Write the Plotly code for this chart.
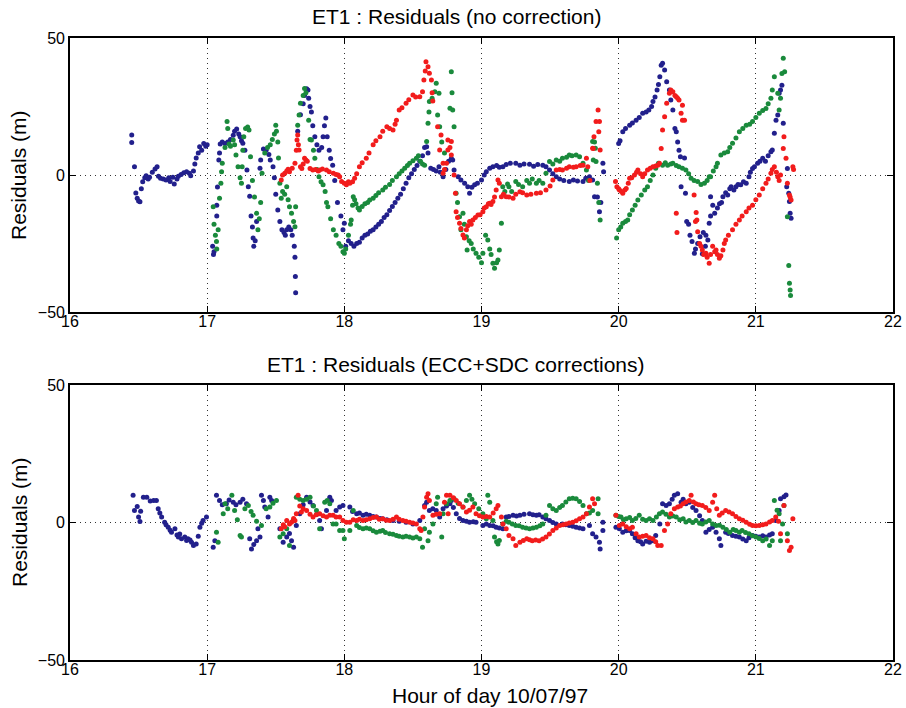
import plotly.graph_objects as go

# ---------------- data: (hour, residual m) ----------------
top_blue = [
    (16.45, 14.6), (16.45, 11.9), (16.47, 3.0), (16.48, -6.6), (16.49, -8.5), (16.50, -9.5), (16.51, -9.8),
    (16.52, -5.0), (16.53, -2.5), (16.545, -1.0), (16.555, -0.3), (16.57, -1.5), (16.58, -0.8), (16.60, 1.0),
    (16.62, 2.2), (16.635, 3.0), (16.645, -0.5), (16.66, -1.2), (16.68, -1.5), (16.70, -1.8), (16.72, -1.0),
    (16.73, -2.4), (16.75, -0.8), (16.76, -3.3), (16.78, -1.5), (16.79, -0.5), (16.81, 0.2), (16.83, 0.8),
    (16.85, 1.2), (16.87, 0.6), (16.88, -0.3), (16.90, 1.5), (16.91, 4.0), (16.92, 6.2), (16.935, 8.0),
    (16.945, 10.3), (16.96, 9.0), (16.975, 11.5), (16.99, 10.5), (17.0, 11.0),
    (17.04, -26), (17.046, -29), (17.05, -28), (17.07, -15), (17.07, -11), (17.075, -4.4), (17.085, 5.5),
    (17.09, 8), (17.095, 11.3), (17.11, 12), (17.13, 11.5), (17.15, 12), (17.17, 13), (17.19, 14.5),
    (17.20, 16), (17.215, 16.8), (17.23, 15), (17.24, 14), (17.25, 12.5), (17.26, 11.6), (17.275, 9),
    (17.29, 1.8), (17.30, -4.3), (17.31, -7.8), (17.32, -15), (17.33, -19), (17.335, -23), (17.34, -26),
    (17.35, -24), (17.36, -17), (17.385, 2.5), (17.39, 5.5), (17.41, 9.5), (17.43, 9), (17.45, 7.5),
    (17.46, 5.5), (17.48, 3), (17.49, -1), (17.50, -7), (17.515, -12.8), (17.53, -17), (17.545, -20),
    (17.56, -21), (17.57, -22), (17.58, -20), (17.595, -19), (17.61, -20), (17.62, -22), (17.635, -26),
    (17.64, -30), (17.643, -37), (17.645, -43),
    (17.66, 16), (17.68, 22), (17.70, 26), (17.71, 29), (17.725, 31.5), (17.735, 31), (17.74, 28),
    (17.75, 25), (17.76, 23), (17.77, 18), (17.785, 14), (17.80, 11), (17.815, 9), (17.835, 10),
    (17.845, 14), (17.855, 18), (17.865, 20.8), (17.875, 14), (17.89, 9), (17.90, 6), (17.915, 3.6),
    (17.93, -2), (17.95, -10), (17.975, -15), (17.99, -20), (18.0, -17.6), (18.01, -26),
    (18.03, -24), (18.05, -25), (18.07, -26), (18.09, -25), (18.11, -24.5), (18.13, -23), (18.15, -22),
    (18.17, -21.5), (18.19, -20.5), (18.21, -20), (18.23, -19), (18.25, -18), (18.27, -17), (18.29, -15.5),
    (18.31, -14.5), (18.33, -13), (18.35, -11.5), (18.37, -10), (18.39, -8.5), (18.41, -7), (18.43, -5),
    (18.45, -3), (18.47, -1), (18.49, 0.5), (18.51, 2), (18.53, 3.5), (18.55, 5), (18.57, 7),
    (18.585, 10), (18.60, 10.3), (18.61, 8), (18.63, 2.5), (18.65, 2), (18.67, 1.5), (18.69, 3),
    (18.70, 1), (18.72, -0.6), (18.74, 2), (18.76, 5), (18.78, 6), (18.79, 5.5), (18.80, 1.8),
    (18.83, -0.6), (18.85, -1.8), (18.877, -3), (18.90, -4.3), (18.913, -6.7), (18.93, -4.5),
    (18.95, -3.6), (18.97, -3), (19.0, -1.8), (19.02, 0), (19.035, 1.2), (19.06, 2.5), (19.083, 3),
    (19.11, 3.5), (19.13, 2.8), (19.156, 3), (19.18, 3.8), (19.21, 4.3), (19.25, 4.3), (19.28, 3.6),
    (19.31, 4), (19.35, 3.9), (19.38, 3.2), (19.41, 3.8), (19.447, 3.6), (19.47, 3), (19.496, 1.8),
    (19.52, 0.5), (19.545, -0.6), (19.57, -1.5), (19.60, -2), (19.64, -2.4), (19.67, -1.8), (19.70, -2.2),
    (19.74, -2.4), (19.76, -1.2), (19.787, -0.6), (19.81, -1.8), (19.824, -7.9), (19.845, -8),
    (19.86, -13.4), (19.87, -10), (19.885, 4.3), (19.89, 1.2),
    (20.0, 11.5), (20.01, 12.5), (20.03, 15.8), (20.05, 17), (20.08, 18.2), (20.10, 19), (20.127, 20),
    (20.15, 21), (20.175, 22.5), (20.20, 23), (20.22, 23.7), (20.24, 25), (20.25, 26.8), (20.265, 28.5),
    (20.28, 31), (20.29, 33), (20.30, 35.9), (20.31, 40.1), (20.32, 40.8), (20.335, 38.3), (20.35, 34),
    (20.37, 31), (20.38, 27.4), (20.395, 23.7), (20.41, 17), (20.42, 15.8), (20.43, 12), (20.44, 9),
    (20.45, 6.7), (20.48, 6.2), (20.455, -4.3), (20.487, -6.7), (20.496, -17), (20.51, -18), (20.52, -22),
    (20.535, -24.3), (20.552, -28.6), (20.56, -27), (20.576, -25), (20.593, -22.5), (20.61, -28.8),
    (20.617, -21), (20.632, -26), (20.636, -22), (20.65, -23.7), (20.66, -17.6), (20.67, -15),
    (20.67, -7.9), (20.686, -11), (20.70, -14), (20.72, -12), (20.735, -10.5), (20.75, -10), (20.76, -7.9),
    (20.78, -6.5), (20.795, -7.3), (20.81, -5), (20.82, -4.3), (20.84, -5.5), (20.855, -4.3), (20.87, -3.5),
    (20.89, -3.6), (20.91, -2.5), (20.93, -3), (20.95, -0.6), (20.96, 1), (20.976, 2.4), (20.99, 3),
    (21.013, 4.3), (21.03, 5), (21.05, 6.1), (21.07, 5), (21.09, 7), (21.11, 8.5), (21.12, 9.1),
    (21.135, 15.2), (21.147, 20), (21.16, 21.9), (21.17, 29.8), (21.18, 31), (21.19, 32.8), (21.20, 18.9),
    (21.225, -4.3), (21.23, 2.4), (21.24, -6.7), (21.245, -9.7), (21.25, -14), (21.257, -15.8),
]

top_green = [
    (17.044, -11.6), (17.05, -18), (17.06, -22), (17.068, -24.3), (17.07, -27), (17.08, -20), (17.09, -8.5),
    (17.10, -3), (17.105, 1.2), (17.11, 4.3), (17.13, 10), (17.145, 19.5), (17.15, 17), (17.16, 11.3),
    (17.17, 10.5), (17.19, 12.8), (17.20, 11), (17.21, 7.3), (17.225, 3), (17.24, -1), (17.25, -3),
    (17.255, 3), (17.26, 9), (17.267, 14), (17.28, 17), (17.295, 17.5), (17.305, 16.4), (17.316, 6.7),
    (17.33, -2), (17.345, -8), (17.36, -14), (17.37, -20), (17.38, -16), (17.39, -10), (17.40, 0.6),
    (17.42, 8), (17.44, 10), (17.46, 11), (17.475, 13), (17.49, 15), (17.50, 18.2), (17.505, 16),
    (17.515, 12), (17.52, 6.2), (17.53, -3), (17.54, -8.5), (17.55, -6), (17.565, -7), (17.58, -4.3),
    (17.59, -9), (17.60, -11.6), (17.615, -14), (17.63, -17), (17.64, -18.9), (17.645, -11.6),
    (17.66, 18.2), (17.67, 21.9), (17.68, 26.2), (17.70, 29), (17.71, 31.6), (17.72, 30), (17.74, 20),
    (17.75, 13), (17.76, 12.8), (17.775, 9), (17.785, 6.1), (17.80, 2), (17.815, -0.6), (17.83, -2.5),
    (17.845, -3.6), (17.86, -6), (17.87, -10), (17.88, -11.6), (17.90, -16), (17.92, -20), (17.94, -22),
    (17.96, -25), (17.975, -26), (17.99, -28), (18.0, -28.6), (18.01, -27), (18.03, -22), (18.045, -18),
    (18.05, -16.4), (18.06, -11), (18.065, -7.9), (18.075, -9), (18.085, -10.5), (18.10, -12),
    (18.11, -12.8), (18.13, -11.5), (18.15, -10.5), (18.17, -10), (18.185, -9.1), (18.21, -8.5),
    (18.23, -7.5), (18.25, -6.5), (18.28, -5.5), (18.30, -4.5), (18.33, -3.5), (18.35, -2), (18.38, -0.6),
    (18.40, 0.5), (18.42, 1.5), (18.44, 2.5), (18.46, 3.5), (18.476, 4.3), (18.50, 5.2), (18.525, 6.1),
    (18.54, 7), (18.555, 5), (18.57, 4), (18.585, 3.6), (18.60, 12.2), (18.61, 18.9), (18.617, 23),
    (18.62, 26.8), (18.64, 28), (18.66, 30.4), (18.67, 33.5), (18.68, 21.9), (18.69, 29.8), (18.695, 17.6),
    (18.71, 12), (18.73, 8), (18.77, 24.4), (18.78, 37.7), (18.785, 30), (18.79, 23.7), (18.80, 17.6),
    (18.815, -6.7), (18.825, -10), (18.84, -15.2), (18.85, -20), (18.865, -14), (18.875, -18),
    (18.89, -22.5), (18.895, -27.4), (18.91, -24), (18.925, -25), (18.94, -27), (18.96, -28.6),
    (18.98, -30), (19.0, -32), (19.01, -28.6), (19.03, -22), (19.046, -23.7), (19.06, -27), (19.07, -29),
    (19.083, -32.2), (19.095, -34), (19.11, -32), (19.12, -31), (19.13, -27.4), (19.145, -17.6),
    (19.155, -4.3), (19.17, -6), (19.19, -3.3), (19.20, -4.3), (19.22, -6), (19.25, -2.4), (19.27, -3.5),
    (19.30, -4.3), (19.33, -2), (19.35, -3), (19.37, -1.5), (19.40, -3), (19.42, -2), (19.447, -3),
    (19.47, 0.6), (19.496, 4.9), (19.52, 4), (19.545, 5.5), (19.57, 5), (19.59, 6.1), (19.62, 6.5),
    (19.64, 7.3), (19.66, 7), (19.69, 7.3), (19.715, 6.7), (19.74, 4.3), (19.765, 1.8), (19.78, -2),
    (19.81, 12.2), (19.815, 5.5), (19.824, 12), (19.83, 9.8), (19.835, 4.9), (19.845, -3), (19.855, -10),
    (19.865, -16.4),
    (19.985, -23), (20.0, -20), (20.015, -19), (20.03, -17.6), (20.05, -17), (20.066, -16.4), (20.08, -14.5),
    (20.10, -12.8), (20.12, -11), (20.14, -9.1), (20.165, -7.3), (20.19, -5.5), (20.21, -4.3), (20.23, -2),
    (20.25, 0), (20.27, 2.5), (20.29, 4.3), (20.32, 3.6), (20.34, 4.5), (20.357, 3.6), (20.38, 4),
    (20.395, 4.3), (20.42, 3.5), (20.44, 3), (20.465, 2.5), (20.49, 1.8), (20.51, 0.5), (20.528, -1.2),
    (20.55, -2), (20.576, -2.4), (20.60, -3.5), (20.625, -3), (20.645, -2), (20.66, -0.6), (20.67, -0.6),
    (20.69, 1.5), (20.71, 3), (20.72, 4.3), (20.745, 7.3), (20.77, 8), (20.795, 8.5), (20.81, 10),
    (20.83, 11.6), (20.855, 13.5), (20.88, 15.8), (20.905, 17), (20.93, 18.2), (20.955, 18.5),
    (20.976, 19.5), (21.0, 21), (21.025, 22.5), (21.05, 23.5), (21.074, 24.3), (21.09, 26), (21.11, 28),
    (21.12, 31), (21.135, 35.9), (21.16, 29.8), (21.17, 23.7), (21.18, 28), (21.19, 37), (21.20, 42.6),
    (21.21, 37.7), (21.23, -15.2), (21.24, -33), (21.245, -39.5), (21.25, -42), (21.253, -44),
]

top_red = [
    (17.54, -1.8), (17.55, 0), (17.566, 0.6), (17.58, 1.5), (17.59, 2.1), (17.60, 1.2), (17.62, 2.5),
    (17.64, 4.3), (17.65, 9), (17.655, 12.8), (17.66, 14.6), (17.665, 11), (17.67, 9.1), (17.68, 3),
    (17.69, 2.4), (17.70, 4), (17.71, 6.1), (17.72, 5.5), (17.73, 5), (17.75, 2.4), (17.77, 1.8),
    (17.79, 2), (17.81, 1.5), (17.82, 1.8), (17.84, 2.2), (17.87, 1.8), (17.89, 1.2), (17.92, 0.6),
    (17.94, 0.2), (17.955, 0), (17.966, -0.6), (17.98, -2.4), (18.0, -3), (18.015, -3.6), (18.03, -2.5),
    (18.04, -3), (18.06, -2.5), (18.075, -1.2), (18.09, 0.5), (18.11, 3), (18.13, 4.5), (18.16, 6.1),
    (18.18, 8), (18.21, 11), (18.23, 12.5), (18.26, 14), (18.28, 16), (18.31, 17.6), (18.33, 17),
    (18.355, 16.4), (18.37, 18.5), (18.38, 20), (18.40, 23.7), (18.42, 24.5), (18.45, 26.2),
    (18.47, 27.5), (18.50, 29.2), (18.52, 28.5), (18.55, 28.6), (18.57, 30.4), (18.58, 34.7),
    (18.59, 38), (18.595, 41.3), (18.61, 39.5), (18.62, 37.1), (18.635, 34.7), (18.64, 30),
    (18.645, 27), (18.68, 17.6), (18.695, 9.1), (18.705, 14.6), (18.72, 0.6), (18.72, 4.3), (18.73, 2),
    (18.745, 4.3), (18.755, 12.8), (18.755, 9.1), (18.77, 10), (18.78, 12.2), (18.78, 7.3), (18.80, 0),
    (18.81, -6.7), (18.815, -13.4), (18.825, -15.5), (18.84, -17.6), (18.85, -19.5), (18.865, -21.9),
    (18.875, -23), (18.89, -20), (18.90, -18.5), (18.913, -17), (18.925, -18), (18.937, -16.4),
    (18.955, -15.5), (18.974, -14.6), (18.99, -14.5), (19.01, -13.4), (19.02, -12), (19.035, -11.6),
    (19.05, -10.5), (19.06, -10.3), (19.07, -10.8), (19.083, -9.7), (19.095, -8), (19.107, -5.5),
    (19.12, -1.8), (19.13, -3), (19.145, -7.9), (19.16, -7), (19.18, -7.9), (19.20, -8), (19.23, -8.5),
    (19.25, -7), (19.28, -6.1), (19.30, -6.5), (19.33, -7.3), (19.36, -7), (19.40, -6.7), (19.43, -6.5),
    (19.47, -5.5), (19.50, -4), (19.52, -1.8), (19.545, 1.8), (19.57, 2), (19.59, 1.8), (19.62, 2.5),
    (19.64, 3), (19.67, 2.8), (19.69, 3), (19.72, 3.5), (19.74, 3.6), (19.765, 6.1), (19.775, 3),
    (19.79, -2), (19.81, 9.8), (19.815, 9.7), (19.82, 14), (19.835, 19.5), (19.85, 23.7), (19.855, 15.8),
    (19.86, 19.5), (19.865, 9.1),
    (19.977, -2.4), (19.987, -4.3), (20.0, -5), (20.006, -5.5), (20.02, -6), (20.03, -6.7), (20.045, -5.5),
    (20.055, -4.9), (20.07, -3), (20.08, -1.2), (20.095, -1), (20.115, 0), (20.13, 1), (20.14, 1.8),
    (20.16, 0.5), (20.175, -0.6), (20.19, 0.5), (20.21, 1.8), (20.23, 2.5), (20.25, 3), (20.27, 3.3),
    (20.285, 3.6), (20.297, 4.3), (20.31, 9.7), (20.32, 16.4), (20.335, 21.3), (20.35, 26.2),
    (20.37, 29.8), (20.38, 31), (20.395, 30.4), (20.41, 29), (20.42, 28.6), (20.43, 28), (20.44, 27.4),
    (20.455, 22.5), (20.465, 20), (20.465, 25.5), (20.48, 20), (20.42, -14), (20.425, -21),
    (20.55, -7.3), (20.56, -17), (20.565, -13.7), (20.57, -16.4), (20.576, -20.7), (20.59, -25),
    (20.60, -26), (20.61, -27.4), (20.62, -29), (20.636, -28.6), (20.645, -30), (20.66, -32.2),
    (20.67, -29), (20.685, -26), (20.70, -28), (20.71, -27.4), (20.72, -29), (20.734, -30.4),
    (20.745, -29.5), (20.76, -27.4), (20.77, -25), (20.78, -23.7), (20.80, -22), (20.83, -20),
    (20.855, -18), (20.88, -16.4), (20.90, -15), (20.93, -13.4), (20.95, -12), (20.976, -11), (21.0, -9),
    (21.025, -7.3), (21.05, -5), (21.074, -3), (21.09, -1.5), (21.11, 0.6), (21.12, 2), (21.135, 3),
    (21.15, 1), (21.16, -0.6), (21.17, -2), (21.18, 0), (21.20, 9.7), (21.205, 14), (21.22, 6.1),
    (21.23, -3), (21.245, -7.3), (21.25, -8), (21.257, -9.1), (21.27, 3), (21.275, 2),
]

bot_blue = [
    (16.46, 9.9), (16.47, 4.4), (16.49, 5.8), (16.50, 2.0), (16.51, 0.4), (16.515, 4.1), (16.535, 9.2),
    (16.56, 9.2), (16.585, 7.8), (16.61, 8), (16.63, 8), (16.643, 5), (16.655, 3.5), (16.668, 2),
    (16.69, 0.1), (16.70, -0.8), (16.716, -1.7), (16.73, -2.8), (16.74, -3.5), (16.765, -2.3),
    (16.78, -4.5), (16.79, -5.3), (16.80, -4.2), (16.813, -5.9), (16.837, -5.3), (16.85, -6.5),
    (16.86, -5.9), (16.875, -6.4), (16.886, -7.2), (16.90, -8.4), (16.92, -7.8), (16.935, -5),
    (16.947, -1.7), (16.96, -0.3), (16.97, 0.7), (16.995, 2),
    (17.044, -9), (17.056, -6.6), (17.068, 9.9), (17.09, 8), (17.11, 6.5), (17.14, 6.8), (17.16, 8.2),
    (17.19, 7.4), (17.21, 6.5), (17.24, 7.4), (17.26, 8.5), (17.287, 6.8), (17.31, -5.9), (17.323, -9.6),
    (17.34, -8), (17.36, -6.6), (17.37, -2.3), (17.385, -5.3), (17.396, 9.9), (17.41, 8), (17.42, 5.6),
    (17.444, 2), (17.457, 9.2), (17.47, 8), (17.53, -2.3), (17.554, -7.2), (17.58, -5.3), (17.60, -4),
    (17.615, -6.6), (17.63, -9), (17.65, -1.1), (17.675, 3.2), (17.70, 6.5), (17.725, 9.2), (17.75, 7.5),
    (17.772, 6.2), (17.80, 3), (17.82, 0.7), (17.833, -2.3), (17.87, 4.4), (17.894, 9.2), (17.906, 8),
    (17.94, 4.4), (17.966, 5.6), (17.99, 6.2), (18.04, 5.6), (18.06, 4), (18.09, 3.2), (18.11, 3.5),
    (18.136, 2.6), (18.16, 3), (18.185, 2.6), (18.21, 2.2), (18.234, 2), (18.26, 1.5), (18.28, 1.4),
    (18.31, 1), (18.355, 0.7), (18.40, 0.5), (18.45, 0.1), (18.50, -0.5), (18.55, 0.7), (18.585, 6.2),
    (18.60, 7.4), (18.62, 4.4), (18.645, 5), (18.67, 4.4), (18.695, 2), (18.72, 5), (18.745, 6),
    (18.77, 6.8), (18.78, 8), (18.795, 5.5), (18.816, 3.2), (18.84, 1.5), (18.865, 0.7), (18.89, 0.5),
    (18.913, 0.1), (18.94, 0.3), (18.96, 0.1), (19.01, -1.1), (19.035, -0.5), (19.06, -1.1),
    (19.085, -1.2), (19.107, -1.7), (19.13, -2), (19.156, -2.3), (19.18, 2), (19.20, 2.2), (19.23, 2.6),
    (19.255, 2.4), (19.28, 2.6), (19.31, 3), (19.35, 3.2), (19.375, 2.8), (19.40, 2.6), (19.42, 2.8),
    (19.447, 2), (19.47, 1.4), (19.496, 0.7), (19.52, 0), (19.545, -0.5), (19.59, -0.5), (19.615, -0.8),
    (19.64, -1.1), (19.665, -1.4), (19.69, -1.7), (19.715, -2), (19.74, -2.3), (19.787, -1.1),
    (19.81, -4.1), (19.835, -5.3), (19.86, -7.2), (19.865, -9.6), (19.885, 0.1), (19.885, -2.9),
    (19.98, -1.7), (20.005, -2.3), (20.03, -3.5), (20.055, -3), (20.08, -2.9), (20.10, -4.1),
    (20.12, -5.5), (20.14, -6.6), (20.16, -7), (20.175, -7.8), (20.20, -6.8), (20.225, -7.2),
    (20.25, -6.6), (20.27, -4.7), (20.30, -0.5), (20.32, 6.8), (20.346, 6.2), (20.37, 6.8), (20.39, 8.5),
    (20.406, 9.9), (20.43, 10.5), (20.455, 7.4), (20.47, 8.5), (20.49, 6.8), (20.515, 7.4), (20.54, 5.5),
    (20.564, 4.4), (20.59, 2.5), (20.61, 0.7), (20.636, -3.5), (20.66, -2.5), (20.685, -1.7),
    (20.71, -3.5), (20.734, -5.9), (20.745, -8.4), (20.78, -3.5), (20.80, -4), (20.83, -4.7),
    (20.855, -5), (20.88, -5.3), (20.905, -6), (20.93, -6.6), (20.95, -5.5), (20.976, -4.7),
    (21.0, -5), (21.025, -5.3), (21.05, -4.8), (21.074, -5.3), (21.10, -4.5), (21.12, -4.1),
    (21.145, 0.7), (21.17, 4.4), (21.18, 8.6), (21.205, 9.4), (21.22, 10),
]

bot_green = [
    (17.068, -3.5), (17.08, -7.2), (17.117, 3.2), (17.13, 6.8), (17.15, 5), (17.18, 9.9), (17.20, 4.4),
    (17.22, 1), (17.24, -4.7), (17.25, -5.3), (17.275, 5), (17.30, 6.2), (17.32, 4), (17.335, 2.6),
    (17.36, 0.5), (17.396, -1.1), (17.43, 5), (17.457, 5.6), (17.48, 7), (17.505, 8), (17.53, -5.3),
    (17.554, -4.1), (17.58, -2.3), (17.60, -8.4), (17.627, 0.7), (17.65, 9.2), (17.675, 8.5),
    (17.70, 8), (17.725, 8.5), (17.75, 9.2), (17.775, 6), (17.797, 4.4), (17.82, -2.3), (17.857, 7.4),
    (17.875, 8), (17.894, 6.8), (17.918, -0.5), (17.94, -0.5), (17.966, -2.9), (17.99, -2.9),
    (18.0, -5.9), (18.04, -2.9), (18.065, 4.4), (18.09, -1.1), (18.11, -1.8), (18.136, -2.3),
    (18.16, -2), (18.185, -2.3), (18.21, -3), (18.234, -3.5), (18.26, -3.2), (18.28, -2.9),
    (18.30, -3.6), (18.33, -4.1), (18.355, -4.3), (18.38, -4.7), (18.40, -5), (18.427, -5.3),
    (18.45, -5), (18.476, -5.3), (18.50, -5.6), (18.525, -5.3), (18.55, -5.9), (18.57, -9),
    (18.585, -2.3), (18.61, -6.6), (18.62, -3.5), (18.646, -0.5), (18.67, 6.8), (18.68, 9.2),
    (18.71, -5.3), (18.72, 3.2), (18.745, 6.8), (18.77, 8), (18.80, 8.6), (18.83, 7), (18.865, 5.6),
    (18.89, 8), (18.913, 9.9), (18.93, 8.5), (18.95, 6.8), (18.98, 5), (19.01, 3.2), (19.035, 1.4),
    (19.046, 9.9), (19.06, 7.4), (19.083, 0.7), (19.095, -5.3), (19.11, -7), (19.12, -7.8),
    (19.13, -6.5), (19.156, -0.5), (19.18, 0.5), (19.20, 0.1), (19.225, -0.5), (19.25, -1.1),
    (19.275, -1.2), (19.30, -1.7), (19.325, -2), (19.35, -2.3), (19.375, -2), (19.40, -1.7),
    (19.425, -1.2), (19.447, -0.5), (19.47, 2.6), (19.496, 6.2), (19.52, 5), (19.545, 4.4),
    (19.57, 5.5), (19.59, 6.2), (19.615, 7.5), (19.64, 8.6), (19.665, 8.8), (19.69, 8.6), (19.715, 7.6),
    (19.74, 6.2), (19.765, 3.2), (19.787, 3.5), (19.81, 4.4), (19.85, 8.6), (19.85, 3.2),
    (19.98, 2.6), (20.0, 2.2), (20.017, 2), (20.035, 1), (20.055, 1.4), (20.08, 1.8), (20.10, 0.7),
    (20.125, 1.5), (20.15, 2.6), (20.175, 1.2), (20.20, 0.7), (20.225, 1.4), (20.25, 0.7), (20.275, 2),
    (20.297, 3.2), (20.32, 3.8), (20.345, 3), (20.37, 2), (20.395, 2.4), (20.42, 2), (20.445, 1),
    (20.47, 1.4), (20.49, 0.2), (20.515, 0.7), (20.54, 0), (20.564, 0.7), (20.59, -0.3), (20.61, -0.5),
    (20.635, 0.2), (20.66, 0.7), (20.685, -0.5), (20.71, -1.1), (20.735, -1), (20.76, -1.7),
    (20.785, -2.5), (20.81, -3.5), (20.835, -2.5), (20.855, -2.9), (20.88, -3.5), (20.90, -2.9),
    (20.925, -3.6), (20.95, -4.1), (20.975, -4.8), (21.0, -5.3), (21.025, -5.8), (21.05, -6.6),
    (21.075, -6), (21.10, -8.4), (21.12, -6.6), (21.135, 8), (21.155, 4.5), (21.17, 3.2), (21.18, -6.6),
    (21.195, -0.5), (21.205, 6.2), (21.23, -4.1),
]

bot_red = [
    (17.54, -2.3), (17.555, -0.8), (17.565, -1.5), (17.58, 0.7), (17.60, -0.5), (17.615, 0.1),
    (17.63, 1.5), (17.64, 0.7), (17.65, 3.2), (17.663, 9.9), (17.675, 6), (17.687, 3.8), (17.70, 5),
    (17.725, 4.4), (17.75, 3), (17.772, 2), (17.795, 2.8), (17.82, 3.2), (17.845, 2.5), (17.87, 2),
    (17.894, 2.6), (17.918, 2.6), (17.94, 2), (17.966, 2), (17.99, 0.7), (18.015, 0.1), (18.04, 0.1),
    (18.065, 1), (18.09, 0.7), (18.11, 1.2), (18.136, 0.7), (18.16, 1), (18.185, 1.4), (18.21, 1.8),
    (18.234, 2), (18.255, 1.2), (18.28, 1.4), (18.305, 0.8), (18.33, 0.7), (18.355, 1.2), (18.38, 2),
    (18.40, 1.2), (18.427, 0.7), (18.45, 0.5), (18.476, 0.1), (18.50, -0.2), (18.525, -0.5),
    (18.55, -2.3), (18.56, -2.9), (18.573, 2), (18.585, 5.6), (18.60, 9.2), (18.61, 10.5), (18.62, 8),
    (18.646, 2.6), (18.67, 3), (18.695, 3.2), (18.73, 7.4), (18.745, 9.9), (18.757, 3.2), (18.77, 9.9),
    (18.795, 9), (18.816, 8), (18.84, 6.8), (18.865, 5.6), (18.89, 3.8), (18.913, 4.5), (18.937, 5.6),
    (18.96, 3.2), (18.985, 2.5), (19.01, 2), (19.035, 2.2), (19.06, 2), (19.085, 3.5), (19.107, 5),
    (19.12, 6.2), (19.145, 2), (19.156, -0.5), (19.18, -2.3), (19.20, -4.7), (19.23, -5.9),
    (19.25, -8.4), (19.28, -7.2), (19.305, -6.5), (19.33, -5.9), (19.35, -6.3), (19.37, -6.6),
    (19.395, -6.4), (19.42, -6.6), (19.445, -6), (19.47, -5.3), (19.495, -4.2), (19.52, -2.9),
    (19.545, -2), (19.57, -1.1), (19.595, -0.8), (19.617, -0.5), (19.64, -0.2), (19.665, 0.1),
    (19.69, 0.6), (19.715, 1.4), (19.74, 2), (19.765, 3.2), (19.787, 5.6), (19.81, 8.6), (19.824, 6.8),
    (19.98, 2.6), (20.005, -1.1), (20.03, -0.5), (20.055, -1.5), (20.08, -2.3), (20.10, -1.7),
    (20.127, -4.1), (20.15, -5.3), (20.175, -5), (20.20, -4.7), (20.225, -5.5), (20.25, -5.9),
    (20.27, -7), (20.285, -8.4), (20.31, -8.4), (20.334, -2.9), (20.357, -0.5), (20.38, 3.2),
    (20.406, 5), (20.43, 5.6), (20.45, 6), (20.47, 6.8), (20.49, 7.5), (20.515, 8), (20.528, 9.9),
    (20.545, 7.5), (20.564, 6.8), (20.585, 6.5), (20.61, 6.2), (20.635, 5.5), (20.66, 4.4), (20.685, 7.4),
    (20.70, 9.9), (20.715, 5), (20.734, 2.6), (20.755, 3.5), (20.78, 4.4), (20.805, 3.8), (20.83, 3.2),
    (20.855, 2.2), (20.88, 1.4), (20.905, 0.8), (20.93, 0.1), (20.955, -0.6), (20.976, -1.1),
    (21.0, -1.2), (21.025, -1.1), (21.05, -0.8), (21.074, -0.5), (21.10, 0.2), (21.12, 0.7),
    (21.145, 2), (21.165, 0.5), (21.18, -4.1), (21.205, 6.2), (21.23, -6.6), (21.245, -10.2),
    (21.257, -9), (21.27, 1.4),
]

series_colors = {"blue": "#22208c", "green": "#1a8a3c", "red": "#f21c1c"}
panel_titles = ["ET1 : Residuals (no correction)", "ET1 : Residuals (ECC+SDC corrections)"]
x_ticks = [16, 17, 18, 19, 20, 21, 22]
y_ticks = [-50, 0, 50]
x_label = "Hour of day 10/07/97"
y_label = "Residuals (m)"

# ---------------- figure ----------------
W, H = 906, 708
FONT = "Liberation Sans, Arial, sans-serif"

def fx(px):
    return px / W

def fy(py):
    return 1 - py / H

fig = go.Figure()

panels = [
    ("x", "y", [("blue", top_blue), ("green", top_green), ("red", top_red)]),
    ("x2", "y2", [("blue", bot_blue), ("green", bot_green), ("red", bot_red)]),
]
for xa, ya, group in panels:
    for name, pts in group:
        fig.add_trace(go.Scatter(
            x=[p[0] for p in pts], y=[p[1] for p in pts],
            mode="markers", xaxis=xa, yaxis=ya,
            marker=dict(size=5, color=series_colors[name], line=dict(width=0)),
            showlegend=False, hoverinfo="skip",
        ))

axis_common = dict(
    showline=True, linecolor="black", linewidth=1.6, mirror="ticks",
    ticks="inside", ticklen=6, tickwidth=1, tickcolor="black",
    showgrid=True, gridcolor="#333333", gridwidth=1, griddash="1px,4px",
    zeroline=False, fixedrange=True, automargin=False,
    tickfont=dict(family=FONT, size=16, color="black"),
)

x_dom = [fx(70), fx(893)]
fig.update_layout(
    template="none",
    width=W, height=H, autosize=False,
    margin=dict(l=0, r=0, t=0, b=0, pad=0),
    paper_bgcolor="white", plot_bgcolor="white",
    xaxis=dict(domain=x_dom, anchor="y", range=[16, 22], tickvals=x_ticks, ticklabelstandoff=-6, **axis_common),
    yaxis=dict(domain=[fy(312), fy(38)], anchor="x", range=[-50, 50], tickvals=y_ticks, **axis_common),
    xaxis2=dict(domain=x_dom, anchor="y2", range=[16, 22], tickvals=x_ticks, ticklabelstandoff=-6, **axis_common),
    yaxis2=dict(domain=[fy(660), fy(385)], anchor="x2", range=[-50, 50], tickvals=y_ticks, **axis_common),
)

def label(text, cx, cy, size, angle=0):
    return dict(text=text, x=fx(cx), y=fy(cy), xref="paper", yref="paper",
                xanchor="center", yanchor="middle", showarrow=False, textangle=angle,
                font=dict(family=FONT, size=size, color="black"))

annots = [
    label(panel_titles[0], 456, 17, 21),
    label(panel_titles[1], 456, 364, 21),
    label(y_label, 19, 175, 21, -90),
    label(y_label, 19, 522, 21, -90),
    label(x_label, 490, 695, 21),
]
fig.update_layout(annotations=annots)

fig.write_html("out.html")

# remove default page margins so the 906x708 figure fills the window exactly
with open("out.html", "r", encoding="utf-8") as f:
    html = f.read()
html = html.replace("<head>", "<head><style>html,body{margin:0;padding:0;overflow:hidden;}</style>", 1)
with open("out.html", "w", encoding="utf-8") as f:
    f.write(html)
